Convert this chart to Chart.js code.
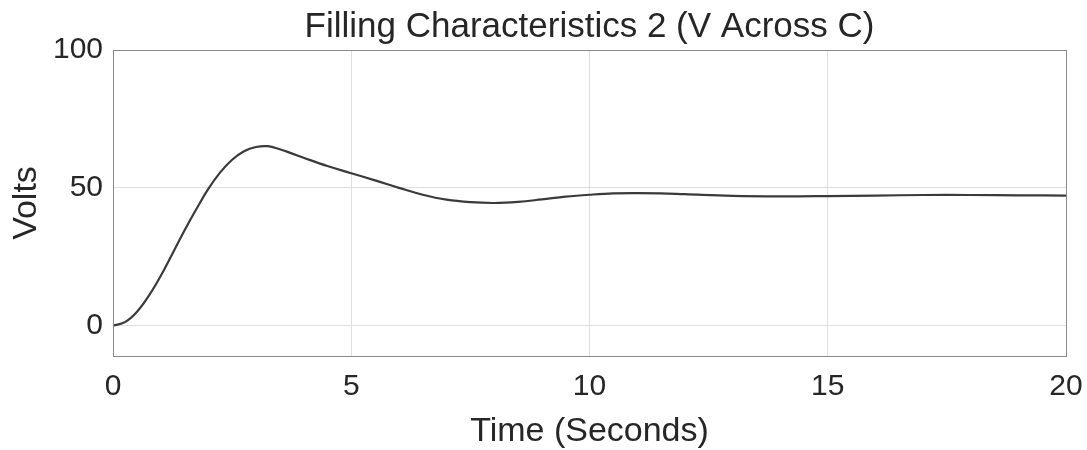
<!DOCTYPE html>
<html>
<head>
<meta charset="utf-8">
<script src="https://cdn.jsdelivr.net/npm/chart.js@4/dist/chart.umd.min.js"></script>
<style>
  html, body { margin: 0; padding: 0; background: #fff; }
  #wrap { width: 1087px; height: 450px; }
</style>
</head>
<body>
<div id="wrap"><canvas id="chart" width="1087" height="450"></canvas></div>
<script>
// time in seconds, voltage across C
const timeSec = [0, 0.25, 0.5, 0.75, 1.0, 1.25, 1.5, 1.75, 2.0, 2.25, 2.5, 2.75, 3.0, 3.25, 3.5, 3.75,
  4.0, 4.5, 5, 5.5, 6, 6.5, 7, 7.5, 8, 8.5, 9, 9.5, 10, 10.5, 11, 11.5, 12, 13, 14, 15, 16, 17, 18, 19, 20];
const volts = [0, 1.3, 5.0, 10.8, 18.0, 26.2, 34.5, 42.3, 49.6, 55.6, 60.2, 63.3, 64.8, 65.1, 64.0, 62.5,
  60.9, 57.9, 55.3, 52.7, 50.0, 47.5, 45.7, 44.8, 44.5, 44.9, 45.8, 46.8, 47.5, 48.0, 48.1, 48.0, 47.7,
  47.1, 46.9, 47.0, 47.2, 47.4, 47.4, 47.3, 47.2];
const xTicks = [0, 5, 10, 15, 20];
const yTicks = [0, 50, 100];

const FONT = "'Liberation Sans', Arial, sans-serif";
const TEXT = "#262626";

// draw the full box around the plot area, matlab style
const boxPlugin = {
  id: "box",
  afterLayout(chart) {
    // centre the title over the plot area, not the whole canvas
    if (chart.titleBlock) {
      chart.titleBlock.left = chart.chartArea.left;
      chart.titleBlock.right = chart.chartArea.right;
    }
  },
  afterDraw(chart) {
    const a = chart.chartArea;
    const ctx = chart.ctx;
    ctx.save();
    ctx.strokeStyle = "#8a8a8a";
    ctx.lineWidth = 1;
    ctx.strokeRect(a.left + 0.5, a.top + 0.5, a.right - a.left, a.bottom - a.top);
    ctx.restore();
  }
};

const points = timeSec.map((t, i) => ({ x: t, y: volts[i] }));

new Chart(document.getElementById("chart").getContext("2d"), {
  type: "line",
  data: {
    datasets: [
      {
        data: points,
        borderColor: "#3a3a3a",
        borderWidth: 2.2,
        pointRadius: 0,
        tension: 0.4,
        fill: false,
      },
    ],
  },
  options: {
    responsive: false,
    animation: false,
    layout: { padding: { left: 0, right: 21, top: 0, bottom: 0 } },
    plugins: {
      legend: { display: false },
      tooltip: { enabled: false },
      title: {
        display: true,
        text: "Filling Characteristics 2 (V Across C)",
        color: TEXT,
        font: { family: FONT, size: 35, weight: "normal", lineHeight: 1.2 },
        padding: { top: 6, bottom: 2 },
      },
    },
    scales: {
      x: {
        type: "linear",
        min: 0,
        max: 20,
        afterBuildTicks: (axis) => { axis.ticks = xTicks.map((v) => ({ value: v })); },
        afterFit: (axis) => {
          axis.height = 94;
          axis.paddingLeft = 0;
          axis.paddingRight = 0;
        },
        ticks: { color: TEXT, font: { family: FONT, size: 30 }, padding: 13, maxRotation: 0 },
        grid: { color: "#dedede", drawTicks: false },
        border: { color: "#8a8a8a" },
        title: {
          display: true,
          text: "Time (Seconds)",
          color: TEXT,
          font: { family: FONT, size: 34, lineHeight: 1.0 },
          padding: { top: 0, bottom: 1 },
        },
      },
      y: {
        min: -11,
        max: 100,
        afterBuildTicks: (axis) => { axis.ticks = yTicks.map((v) => ({ value: v })); },
        afterFit: (axis) => {
          axis.width = 113;
          axis.paddingTop = 0;
          axis.paddingBottom = 0;
        },
        ticks: { color: TEXT, font: { family: FONT, size: 30 }, padding: 10 },
        grid: { color: "#dedede", drawTicks: false },
        border: { color: "#8a8a8a" },
        title: {
          display: true,
          text: "Volts",
          color: TEXT,
          font: { family: FONT, size: 34, lineHeight: 1.0 },
          padding: { top: 10, bottom: 0 },
        },
      },
    },
  },
  plugins: [boxPlugin],
});
</script>
</body>
</html>
